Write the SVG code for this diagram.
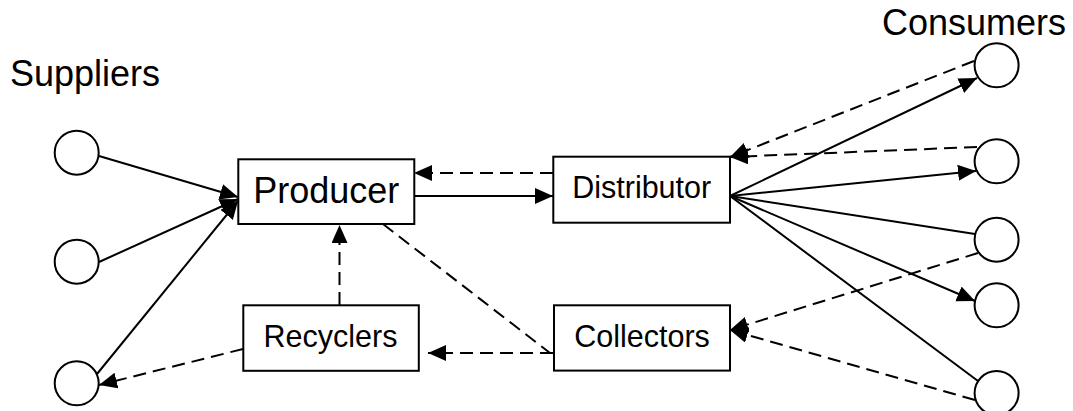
<svg xmlns="http://www.w3.org/2000/svg" width="1073" height="411" viewBox="0 0 1073 411">
  <style>
    text { font-family: "Liberation Sans", Arial, sans-serif; fill: #000; }
    .box { fill: #fff; stroke: #000; stroke-width: 2; }
    .node { fill: #fff; stroke: #000; stroke-width: 2; }
    .link { fill: none; stroke: #000; stroke-width: 2; }
    .dash { stroke-dasharray: 13 7; }
    .lbl { font-size: 30.5px; text-anchor: middle; }
    .big { font-size: 36px; }
  </style>
  <defs>
    <marker id="arrow" markerUnits="userSpaceOnUse" markerWidth="20" markerHeight="18" refX="18" refY="8" orient="auto">
      <path d="M0,0 L18,8 L0,16 Z" fill="#000"/>
    </marker>
  </defs>

  <!-- group titles -->
  <text id="suppliers-title" class="big" x="10" y="86">Suppliers</text>
  <text id="consumers-title" class="big" x="882" y="35">Consumers</text>

  <!-- connectors -->
  <g id="connectors">
    <!-- suppliers to producer -->
    <line class="link" x1="99" y1="156" x2="238" y2="197" marker-end="url(#arrow)"/>
    <line class="link" x1="99" y1="262" x2="238" y2="199" marker-end="url(#arrow)"/>
    <line class="link" x1="97" y1="374" x2="238" y2="201" marker-end="url(#arrow)"/>
    <!-- producer and distributor -->
    <line class="link" x1="414" y1="196" x2="553" y2="196" marker-end="url(#arrow)"/>
    <line class="link dash" x1="553" y1="173" x2="414" y2="173" marker-end="url(#arrow)"/>
    <!-- distributor to consumers -->
    <line class="link" x1="730" y1="196" x2="977" y2="78" marker-end="url(#arrow)"/>
    <line class="link" x1="730" y1="196" x2="976" y2="171" marker-end="url(#arrow)"/>
    <line class="link" x1="730" y1="196" x2="975" y2="234"/>
    <line class="link" x1="730" y1="196" x2="975" y2="301" marker-end="url(#arrow)"/>
    <line class="link" x1="730" y1="196" x2="978" y2="381"/>
    <!-- consumers back to distributor -->
    <line class="link dash" x1="974" y1="61" x2="730" y2="157" marker-end="url(#arrow)"/>
    <line class="link dash" x1="977" y1="147" x2="730" y2="157" marker-end="url(#arrow)"/>
    <!-- consumers to collectors -->
    <line class="link dash" x1="978" y1="253" x2="730" y2="330" marker-end="url(#arrow)"/>
    <line class="link dash" x1="975" y1="400" x2="730" y2="330" marker-end="url(#arrow)"/>
    <!-- return loop -->
    <line class="link dash" x1="383" y1="224" x2="550" y2="353"/>
    <line class="link dash" x1="553" y1="353" x2="428" y2="353" marker-end="url(#arrow)"/>
    <line class="link dash" x1="339.5" y1="305" x2="339.5" y2="225" marker-end="url(#arrow)"/>
    <line class="link dash" x1="243" y1="349" x2="99" y2="385" marker-end="url(#arrow)"/>
  </g>

  <!-- suppliers -->
  <g id="supplier-1"><circle class="node" cx="76.7" cy="152.7" r="22"/></g>
  <g id="supplier-2"><circle class="node" cx="76.7" cy="261.7" r="22"/></g>
  <g id="supplier-3"><circle class="node" cx="76.7" cy="383.3" r="22"/></g>

  <!-- consumers -->
  <g id="consumer-1"><circle class="node" cx="996.6" cy="65.3" r="22"/></g>
  <g id="consumer-2"><circle class="node" cx="996.6" cy="161.3" r="22"/></g>
  <g id="consumer-3"><circle class="node" cx="996.6" cy="239.7" r="22"/></g>
  <g id="consumer-4"><circle class="node" cx="996.6" cy="305.3" r="22"/></g>
  <g id="consumer-5"><circle class="node" cx="996.6" cy="393" r="22"/></g>

  <!-- actors -->
  <g id="producer">
    <rect class="box" x="238.3" y="159.3" width="176" height="64.7"/>
    <text class="lbl big" x="326.3" y="203.3">Producer</text>
  </g>
  <g id="distributor">
    <rect class="box" x="553.3" y="156.7" width="176.7" height="66"/>
    <text class="lbl" x="641.7" y="198.3">Distributor</text>
  </g>
  <g id="recyclers">
    <rect class="box" x="243.3" y="305.3" width="175.5" height="65.5"/>
    <text class="lbl" x="330.5" y="347.3">Recyclers</text>
  </g>
  <g id="collectors">
    <rect class="box" x="554" y="305.3" width="176" height="65.3"/>
    <text class="lbl" x="642" y="347.3">Collectors</text>
  </g>
</svg>
